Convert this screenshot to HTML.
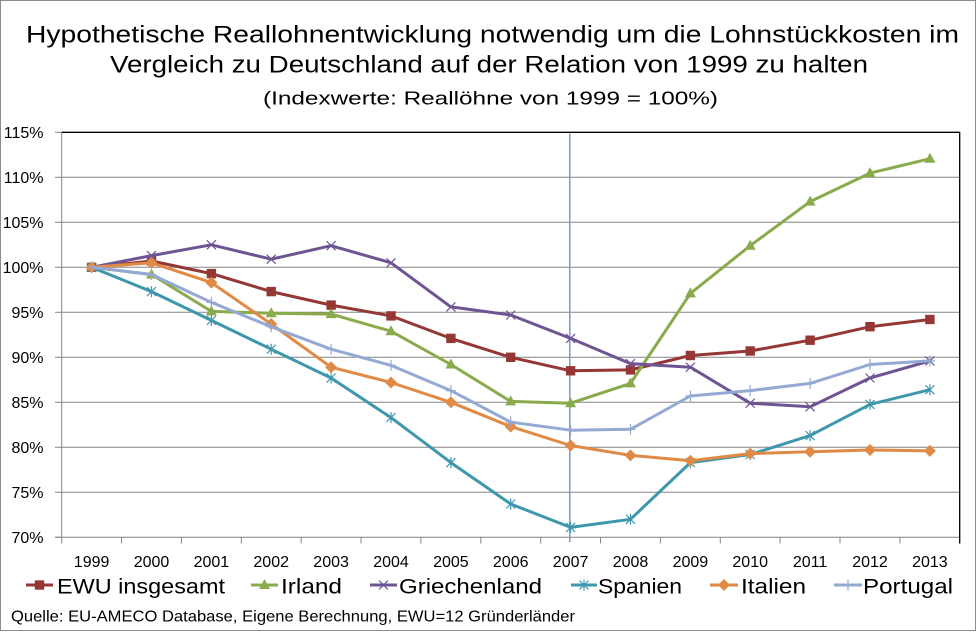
<!DOCTYPE html>
<html>
<head>
<meta charset="utf-8">
<style>
html,body{margin:0;padding:0;background:#fff;}
svg{display:block;}
text{font-family:"Liberation Sans",Arial,sans-serif;fill:#000;}
</style>
</head>
<body>
<svg width="978" height="632" viewBox="0 0 978 632" xmlns="http://www.w3.org/2000/svg">
<rect x="0" y="0" width="978" height="632" fill="#fff"/>
<rect x="0.5" y="0.5" width="975" height="630" fill="none" stroke="#8c8c8c" stroke-width="1"/>

<!-- Title -->
<text x="26" y="42.5" font-size="24" textLength="933" lengthAdjust="spacingAndGlyphs">Hypothetische Reallohnentwicklung notwendig um die Lohnstückkosten im</text>
<text x="110" y="72.5" font-size="24" textLength="758" lengthAdjust="spacingAndGlyphs">Vergleich zu Deutschland auf der Relation von 1999 zu halten</text>
<text x="263" y="104.5" font-size="18" textLength="455" lengthAdjust="spacingAndGlyphs">(Indexwerte: Reallöhne von 1999 = 100%)</text>

<!-- gridlines -->
<g stroke="#868686" stroke-width="1">
<line x1="61.7" y1="177.3" x2="959.7" y2="177.3"/>
<line x1="61.7" y1="222.3" x2="959.7" y2="222.3"/>
<line x1="61.7" y1="267.3" x2="959.7" y2="267.3"/>
<line x1="61.7" y1="312.3" x2="959.7" y2="312.3"/>
<line x1="61.7" y1="357.3" x2="959.7" y2="357.3"/>
<line x1="61.7" y1="402.3" x2="959.7" y2="402.3"/>
<line x1="61.7" y1="447.3" x2="959.7" y2="447.3"/>
<line x1="61.7" y1="492.3" x2="959.7" y2="492.3"/>
<!-- y ticks -->
<line x1="55" y1="132.3" x2="61.7" y2="132.3"/>
<line x1="55" y1="177.3" x2="61.7" y2="177.3"/>
<line x1="55" y1="222.3" x2="61.7" y2="222.3"/>
<line x1="55" y1="267.3" x2="61.7" y2="267.3"/>
<line x1="55" y1="312.3" x2="61.7" y2="312.3"/>
<line x1="55" y1="357.3" x2="61.7" y2="357.3"/>
<line x1="55" y1="402.3" x2="61.7" y2="402.3"/>
<line x1="55" y1="447.3" x2="61.7" y2="447.3"/>
<line x1="55" y1="492.3" x2="61.7" y2="492.3"/>
<line x1="55" y1="537.3" x2="61.7" y2="537.3"/>
<!-- axes -->
<line x1="61.7" y1="132.3" x2="61.7" y2="537.3"/>
<line x1="55" y1="537.3" x2="959.7" y2="537.3"/>
<!-- x ticks -->
<line x1="61.7" y1="537.3" x2="61.7" y2="543.5"/>
<line x1="121.6" y1="537.3" x2="121.6" y2="543.5"/>
<line x1="181.4" y1="537.3" x2="181.4" y2="543.5"/>
<line x1="241.3" y1="537.3" x2="241.3" y2="543.5"/>
<line x1="301.2" y1="537.3" x2="301.2" y2="543.5"/>
<line x1="361.0" y1="537.3" x2="361.0" y2="543.5"/>
<line x1="420.9" y1="537.3" x2="420.9" y2="543.5"/>
<line x1="480.8" y1="537.3" x2="480.8" y2="543.5"/>
<line x1="540.7" y1="537.3" x2="540.7" y2="543.5"/>
<line x1="600.5" y1="537.3" x2="600.5" y2="543.5"/>
<line x1="660.4" y1="537.3" x2="660.4" y2="543.5"/>
<line x1="720.3" y1="537.3" x2="720.3" y2="543.5"/>
<line x1="780.1" y1="537.3" x2="780.1" y2="543.5"/>
<line x1="840.0" y1="537.3" x2="840.0" y2="543.5"/>
<line x1="899.9" y1="537.3" x2="899.9" y2="543.5"/>
</g>
<!-- plot border top/right -->
<line x1="61.7" y1="132.3" x2="960.2" y2="132.3" stroke="#000" stroke-width="1.3"/>
<line x1="959.7" y1="132.3" x2="959.7" y2="543.5" stroke="#000" stroke-width="1.3"/>

<!-- 2007 vertical line -->
<line x1="569.8" y1="133.5" x2="569.8" y2="542" stroke="#7b9bc6" stroke-width="1.5"/>

<!-- y labels -->
<g font-size="16" text-anchor="end">
<text x="43.5" y="138">115%</text>
<text x="43.5" y="183">110%</text>
<text x="43.5" y="228">105%</text>
<text x="43.5" y="273">100%</text>
<text x="43.5" y="318">95%</text>
<text x="43.5" y="363">90%</text>
<text x="43.5" y="408">85%</text>
<text x="43.5" y="453">80%</text>
<text x="43.5" y="498">75%</text>
<text x="43.5" y="543">70%</text>
</g>
<!-- x labels -->
<g font-size="16" text-anchor="middle">
<text x="91.6" y="567">1999</text>
<text x="151.5" y="567">2000</text>
<text x="211.4" y="567">2001</text>
<text x="271.2" y="567">2002</text>
<text x="331.1" y="567">2003</text>
<text x="391.0" y="567">2004</text>
<text x="450.9" y="567">2005</text>
<text x="510.7" y="567">2006</text>
<text x="570.6" y="567">2007</text>
<text x="630.5" y="567">2008</text>
<text x="690.4" y="567">2009</text>
<text x="750.2" y="567">2010</text>
<text x="810.1" y="567">2011</text>
<text x="870.0" y="567">2012</text>
<text x="929.9" y="567">2013</text>
</g>

<defs>
<rect id="sq" x="-4.7" y="-4.7" width="9.4" height="9.4" fill="#953735"/>
<path id="tri" d="M0,-6 L5.5,4 L-5.5,4 Z" fill="#8aab4c"/>
<path id="xm" d="M-4.5,-4.5 L4.5,4.5 M-4.5,4.5 L4.5,-4.5" stroke="#6f5494" stroke-width="1.2" fill="none"/>
<path id="st" d="M-4.5,-4.5 L4.5,4.5 M-4.5,4.5 L4.5,-4.5 M0,-5.5 L0,5.5" stroke="#3f97ae" stroke-width="1.2" fill="none"/>
<path id="dm" d="M0,-6 L6,0 L0,6 L-6,0 Z" fill="#e08a45"/>
<path id="pl" d="M0,-5.5 L0,5.5 M-5,0 L5,0" stroke="#94a9d3" stroke-width="1.2" fill="none"/>
</defs>

<!-- EWU -->
<polyline fill="none" stroke="#953735" stroke-width="3" stroke-linejoin="round" points="91.6,267.3 151.5,261.0 211.4,273.6 271.2,291.6 331.1,305.1 391.0,315.9 450.9,338.4 510.7,357.3 570.6,370.8 630.5,369.9 690.4,355.5 750.2,351.0 810.1,340.2 870.0,326.7 929.9,319.5"/>
<g>
<use href="#sq" x="91.6" y="267.3"/><use href="#sq" x="151.5" y="261.0"/><use href="#sq" x="211.4" y="273.6"/><use href="#sq" x="271.2" y="291.6"/><use href="#sq" x="331.1" y="305.1"/><use href="#sq" x="391.0" y="315.9"/><use href="#sq" x="450.9" y="338.4"/><use href="#sq" x="510.7" y="357.3"/><use href="#sq" x="570.6" y="370.8"/><use href="#sq" x="630.5" y="369.9"/><use href="#sq" x="690.4" y="355.5"/><use href="#sq" x="750.2" y="351.0"/><use href="#sq" x="810.1" y="340.2"/><use href="#sq" x="870.0" y="326.7"/><use href="#sq" x="929.9" y="319.5"/>
</g>

<!-- Irland -->
<polyline fill="none" stroke="#8aab4c" stroke-width="3" stroke-linejoin="round" points="91.6,267.3 151.5,274.5 211.4,311.4 271.2,313.2 331.1,314.1 391.0,331.2 450.9,364.5 510.7,401.4 570.6,403.2 630.5,383.4 690.4,293.4 750.2,245.7 810.1,201.6 870.0,173.1 929.9,158.7"/>
<g>
<use href="#tri" x="91.6" y="267.3"/><use href="#tri" x="151.5" y="274.5"/><use href="#tri" x="211.4" y="311.4"/><use href="#tri" x="271.2" y="313.2"/><use href="#tri" x="331.1" y="314.1"/><use href="#tri" x="391.0" y="331.2"/><use href="#tri" x="450.9" y="364.5"/><use href="#tri" x="510.7" y="401.4"/><use href="#tri" x="570.6" y="403.2"/><use href="#tri" x="630.5" y="383.4"/><use href="#tri" x="690.4" y="293.4"/><use href="#tri" x="750.2" y="245.7"/><use href="#tri" x="810.1" y="201.6"/><use href="#tri" x="870.0" y="173.1"/><use href="#tri" x="929.9" y="158.7"/>
</g>

<!-- Griechenland -->
<polyline fill="none" stroke="#6f5494" stroke-width="3" stroke-linejoin="round" points="91.6,267.3 151.5,255.6 211.4,244.8 271.2,259.2 331.1,245.7 391.0,262.8 450.9,306.9 510.7,315.0 570.6,338.4 630.5,363.6 690.4,367.2 750.2,403.2 810.1,406.8 870.0,378.0 929.9,360.9"/>
<g>
<use href="#xm" x="91.6" y="267.3"/><use href="#xm" x="151.5" y="255.6"/><use href="#xm" x="211.4" y="244.8"/><use href="#xm" x="271.2" y="259.2"/><use href="#xm" x="331.1" y="245.7"/><use href="#xm" x="391.0" y="262.8"/><use href="#xm" x="450.9" y="306.9"/><use href="#xm" x="510.7" y="315.0"/><use href="#xm" x="570.6" y="338.4"/><use href="#xm" x="630.5" y="363.6"/><use href="#xm" x="690.4" y="367.2"/><use href="#xm" x="750.2" y="403.2"/><use href="#xm" x="810.1" y="406.8"/><use href="#xm" x="870.0" y="378.0"/><use href="#xm" x="929.9" y="360.9"/>
</g>

<!-- Spanien -->
<polyline fill="none" stroke="#3f97ae" stroke-width="3" stroke-linejoin="round" points="91.6,267.3 151.5,291.6 211.4,320.4 271.2,349.2 331.1,378.0 391.0,417.6 450.9,462.6 510.7,504.0 570.6,527.4 630.5,519.3 690.4,462.6 750.2,454.5 810.1,435.6 870.0,404.4 929.9,389.7"/>
<g>
<use href="#st" x="91.6" y="267.3"/><use href="#st" x="151.5" y="291.6"/><use href="#st" x="211.4" y="320.4"/><use href="#st" x="271.2" y="349.2"/><use href="#st" x="331.1" y="378.0"/><use href="#st" x="391.0" y="417.6"/><use href="#st" x="450.9" y="462.6"/><use href="#st" x="510.7" y="504.0"/><use href="#st" x="570.6" y="527.4"/><use href="#st" x="630.5" y="519.3"/><use href="#st" x="690.4" y="462.6"/><use href="#st" x="750.2" y="454.5"/><use href="#st" x="810.1" y="435.6"/><use href="#st" x="870.0" y="404.4"/><use href="#st" x="929.9" y="389.7"/>
</g>

<!-- Italien -->
<polyline fill="none" stroke="#e08a45" stroke-width="3" stroke-linejoin="round" points="91.6,267.3 151.5,262.8 211.4,282.6 271.2,324.0 331.1,367.2 391.0,382.5 450.9,402.3 510.7,426.6 570.6,445.5 630.5,455.4 690.4,460.8 750.2,453.6 810.1,451.8 870.0,450.0 929.9,450.9"/>
<g>
<use href="#dm" x="91.6" y="267.3"/><use href="#dm" x="151.5" y="262.8"/><use href="#dm" x="211.4" y="282.6"/><use href="#dm" x="271.2" y="324.0"/><use href="#dm" x="331.1" y="367.2"/><use href="#dm" x="391.0" y="382.5"/><use href="#dm" x="450.9" y="402.3"/><use href="#dm" x="510.7" y="426.6"/><use href="#dm" x="570.6" y="445.5"/><use href="#dm" x="630.5" y="455.4"/><use href="#dm" x="690.4" y="460.8"/><use href="#dm" x="750.2" y="453.6"/><use href="#dm" x="810.1" y="451.8"/><use href="#dm" x="870.0" y="450.0"/><use href="#dm" x="929.9" y="450.9"/>
</g>

<!-- Portugal -->
<polyline fill="none" stroke="#94a9d3" stroke-width="3" stroke-linejoin="round" points="91.6,267.3 151.5,274.5 211.4,302.4 271.2,326.7 331.1,349.2 391.0,365.4 450.9,390.6 510.7,422.1 570.6,430.2 630.5,429.3 690.4,396.0 750.2,390.6 810.1,383.4 870.0,364.5 929.9,360.9"/>
<g>
<use href="#pl" x="91.6" y="267.3"/><use href="#pl" x="151.5" y="274.5"/><use href="#pl" x="211.4" y="302.4"/><use href="#pl" x="271.2" y="326.7"/><use href="#pl" x="331.1" y="349.2"/><use href="#pl" x="391.0" y="365.4"/><use href="#pl" x="450.9" y="390.6"/><use href="#pl" x="510.7" y="422.1"/><use href="#pl" x="570.6" y="430.2"/><use href="#pl" x="630.5" y="429.3"/><use href="#pl" x="690.4" y="396.0"/><use href="#pl" x="750.2" y="390.6"/><use href="#pl" x="810.1" y="383.4"/><use href="#pl" x="870.0" y="364.5"/><use href="#pl" x="929.9" y="360.9"/>
</g>

<!-- Legend -->
<g stroke-width="3">
<line x1="26" y1="585" x2="53" y2="585" stroke="#953735"/>
<line x1="251" y1="585" x2="278" y2="585" stroke="#8aab4c"/>
<line x1="370" y1="585" x2="397" y2="585" stroke="#6f5494"/>
<line x1="571" y1="585" x2="597" y2="585" stroke="#3f97ae"/>
<line x1="710" y1="585" x2="738" y2="585" stroke="#e08a45"/>
<line x1="834" y1="585" x2="862" y2="585" stroke="#94a9d3"/>
</g>
<use href="#sq" x="39.5" y="585"/>
<use href="#tri" x="264.5" y="585"/>
<use href="#xm" x="383.5" y="585"/>
<use href="#st" x="584" y="585"/>
<use href="#dm" x="724" y="585"/>
<use href="#pl" x="848" y="585"/>
<g font-size="21">
<text x="57" y="593.3" textLength="168" lengthAdjust="spacingAndGlyphs">EWU insgesamt</text>
<text x="281" y="593.3" textLength="61" lengthAdjust="spacingAndGlyphs">Irland</text>
<text x="399" y="593.3" textLength="143" lengthAdjust="spacingAndGlyphs">Griechenland</text>
<text x="598" y="593.3" textLength="84" lengthAdjust="spacingAndGlyphs">Spanien</text>
<text x="741" y="593.3" textLength="65" lengthAdjust="spacingAndGlyphs">Italien</text>
<text x="863" y="593.3" textLength="90" lengthAdjust="spacingAndGlyphs">Portugal</text>
</g>

<!-- Source -->
<text x="11" y="621.7" font-size="16" textLength="564" lengthAdjust="spacingAndGlyphs">Quelle: EU-AMECO Database, Eigene Berechnung, EWU=12 Gründerländer</text>
</svg>
</body>
</html>
